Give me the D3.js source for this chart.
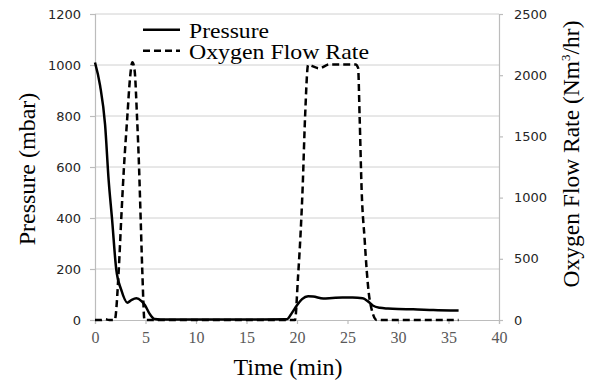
<!DOCTYPE html>
<html>
<head>
<meta charset="utf-8">
<script src="https://cdn.jsdelivr.net/npm/d3@7"></script>
<style>
  body { margin: 0; background: #fff; }
  svg { display: block; }
</style>
</head>
<body>
<div class="chart"></div>
<script>
/* series */
const pressureTime = [0, 0.5, 1.0, 1.35, 1.68, 2.1, 2.6, 3.2, 3.6, 4.1, 4.6, 4.95, 5.4, 5.9, 6.5, 10, 15, 19.0, 19.5, 20.0, 20.5, 21.1, 21.6, 22.6, 23.5, 24.5, 25.5, 26.5, 27.0, 27.5, 28.2, 29.0, 30.0, 31.5, 33.5, 36.0];
const pressureValues = [1010, 920, 765, 549, 400, 200, 118, 68, 78, 85, 74, 58, 25, 4, 2, 2, 2, 3, 28, 58, 82, 93, 92, 84, 86, 88, 88, 85, 74, 57, 48, 45, 43, 42, 39, 37];

const oxygenTime = [0, 0.6, 1.0, 1.4, 1.95, 2.35, 2.6, 2.87, 3.2, 3.45, 3.7, 3.92, 4.16, 4.36, 4.52, 4.68, 4.9, 6, 10, 15, 19.8, 20.1, 20.35, 20.55, 20.8, 21.1, 22.2, 23.2, 25.8, 26.05, 26.2, 26.4, 26.7, 26.9, 27.2, 27.9, 30, 33, 36];
const oxygenValues = [0, 0, 6, 0, 0, 408, 831, 1252, 1661, 1960, 2105, 2040, 1661, 1252, 831, 408, 0, 0, 0, 0, 0, 350, 700, 1062, 1661, 2083, 2056, 2088, 2088, 2060, 1661, 1062, 654, 408, 163, 0, 0, 0, 0];

const xTicks = [0, 5, 10, 15, 20, 25, 30, 35, 40];
const yLeftTicks = [0, 200, 400, 600, 800, 1000, 1200];
const yRightTicks = [0, 500, 1000, 1500, 2000, 2500];

const seriesNames = ["Pressure", "Oxygen Flow Rate"];

/* dimensions */
const w = 589;
const h = 381;
const margin = { top: 14, right: 90, bottom: 61, left: 95 };

const xScale = d3.scaleLinear().domain([0, 40]).range([margin.left, w - margin.right]);
const yLeft = d3.scaleLinear().domain([0, 1200]).range([h - margin.bottom, margin.top]);
const yRight = d3.scaleLinear().domain([0, 2500]).range([h - margin.bottom, margin.top]);

const svg = d3.select(".chart")
  .append("svg")
  .attr("width", w)
  .attr("height", h);

/* gridlines */
svg.append("g")
  .selectAll("line")
  .data(yLeftTicks.filter(d => d > 0))
  .enter()
  .append("line")
  .attr("x1", margin.left)
  .attr("x2", w - margin.right)
  .attr("y1", d => yLeft(d))
  .attr("y2", d => yLeft(d))
  .attr("stroke", "#d0d0d0")
  .attr("stroke-width", 1);

/* axes */
const fmt = d3.format("d");

const leftAxis = svg.append("g")
  .attr("transform", "translate(" + margin.left + ",0)")
  .call(d3.axisLeft(yLeft).tickValues(yLeftTicks).tickFormat(fmt).tickSize(5).tickPadding(9));

const rightAxis = svg.append("g")
  .attr("transform", "translate(" + (w - margin.right) + ",0)")
  .call(d3.axisRight(yRight).tickValues(yRightTicks).tickFormat(fmt).tickSize(4).tickPadding(11));

const bottomAxis = svg.append("g")
  .attr("transform", "translate(0," + (h - margin.bottom) + ")")
  .call(d3.axisBottom(xScale).tickValues(xTicks).tickFormat(fmt).tickSize(4).tickPadding(8));

[leftAxis, rightAxis, bottomAxis].forEach(g => {
  g.select(".domain").attr("stroke", "#bcbcbc").attr("stroke-width", 1.2);
  g.selectAll(".tick line").attr("stroke", "#bcbcbc").attr("stroke-width", 1.2);
});

leftAxis.selectAll("text")
  .attr("font-family", "DejaVu Sans, sans-serif")
  .attr("font-size", "13px")
  .attr("fill", "#262626");

rightAxis.selectAll("text")
  .attr("font-family", "DejaVu Sans, sans-serif")
  .attr("font-size", "13px")
  .attr("fill", "#262626");

bottomAxis.selectAll("text")
  .attr("font-family", "Liberation Serif, serif")
  .attr("font-size", "16px")
  .attr("fill", "#595959");

/* lines */
const pressureLine = d3.line()
  .x((d, i) => xScale(pressureTime[i]))
  .y(d => yLeft(d))
  .curve(d3.curveMonotoneX);

const oxygenLine = d3.line()
  .x((d, i) => xScale(oxygenTime[i]))
  .y(d => yRight(d))
  .curve(d3.curveMonotoneX);

svg.append("path")
  .datum(pressureValues)
  .attr("d", pressureLine)
  .attr("fill", "none")
  .attr("stroke", "#000")
  .attr("stroke-width", 2.5);

svg.append("path")
  .datum(oxygenValues)
  .attr("d", oxygenLine)
  .attr("fill", "none")
  .attr("stroke", "#000")
  .attr("stroke-width", 2.5)
  .attr("stroke-dasharray", "7,4");

/* axis titles */
svg.append("text")
  .attr("x", 288)
  .attr("y", 375)
  .attr("text-anchor", "middle")
  .attr("font-family", "Liberation Serif, serif")
  .attr("font-size", "24px")
  .text("Time (min)");

svg.append("text")
  .attr("transform", "translate(35,169) rotate(-90)")
  .attr("text-anchor", "middle")
  .attr("font-family", "Liberation Serif, serif")
  .attr("font-size", "24px")
  .text("Pressure (mbar)");

const rTitle = svg.append("text")
  .attr("transform", "translate(579,154) rotate(-90)")
  .attr("text-anchor", "middle")
  .attr("font-family", "Liberation Serif, serif")
  .attr("font-size", "23.5px");
rTitle.append("tspan").text("Oxygen Flow Rate (Nm");
rTitle.append("tspan").attr("font-size", "13px").attr("dy", "-9").text("3");
rTitle.append("tspan").attr("dy", "9").text("/hr)");

/* legend */
const legendWidths = [80, 180];

const legend = svg.append("g")
  .selectAll("g")
  .data(seriesNames)
  .enter()
  .append("g")
  .attr("transform", (d, i) => "translate(143," + (29.7 + i * 21) + ")");

legend.append("line")
  .attr("x1", 0)
  .attr("x2", 37)
  .attr("stroke", "#000")
  .attr("stroke-width", 2.5)
  .attr("stroke-dasharray", (d, i) => i === 1 ? "7,4" : null);

legend.append("text")
  .attr("x", 46)
  .attr("y", 8.2)
  .attr("font-family", "Liberation Serif, serif")
  .attr("font-size", "21px")
  .attr("textLength", (d, i) => legendWidths[i])
  .attr("lengthAdjust", "spacingAndGlyphs")
  .text(d => d);
</script>
</body>
</html>
